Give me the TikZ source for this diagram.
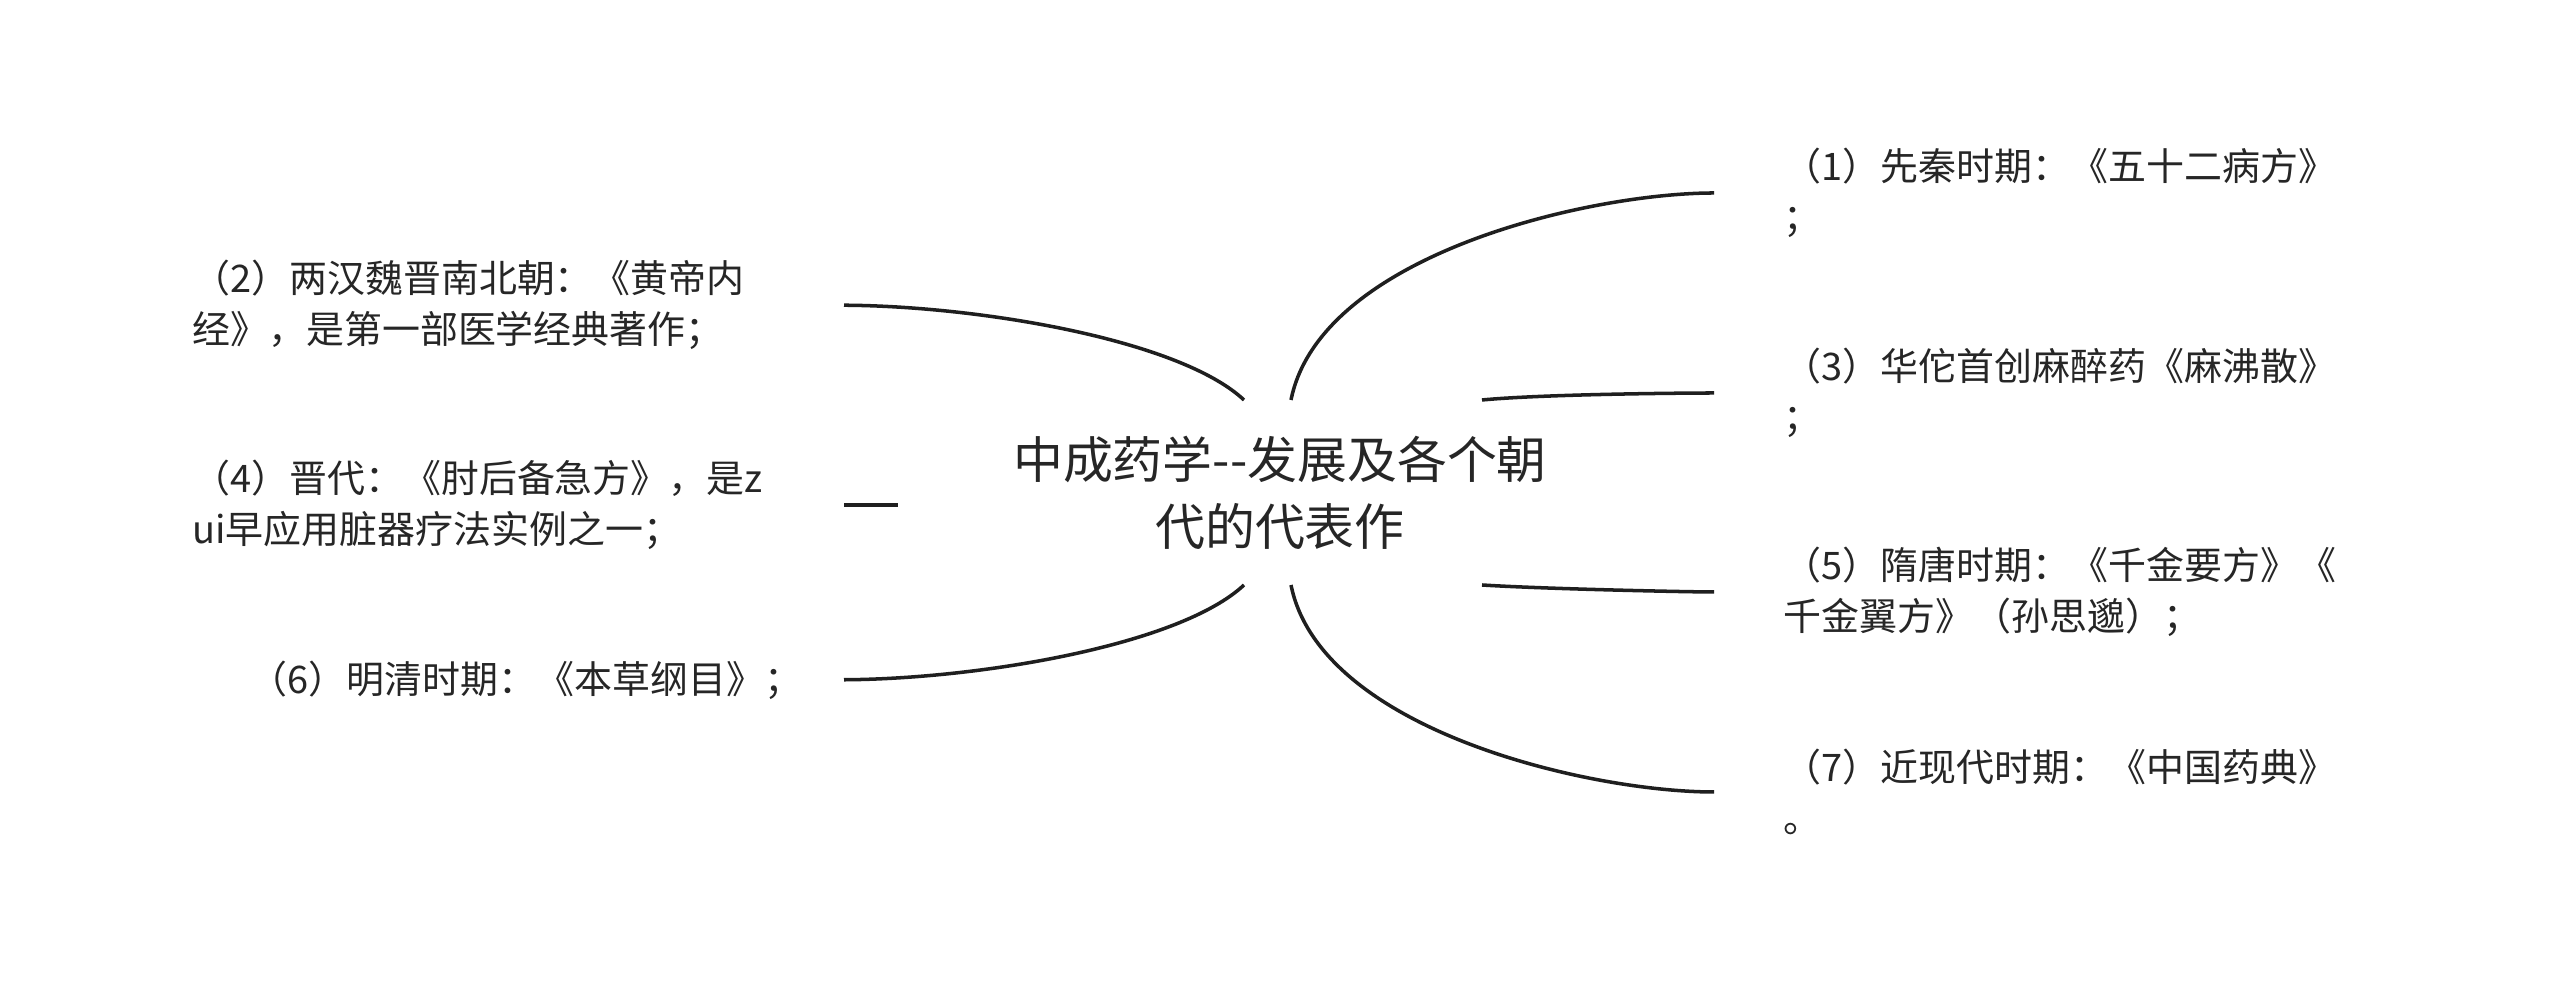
\documentclass[tikz,border=0pt]{standalone}
\usepackage{fontspec}
\setmainfont{Noto Sans CJK SC}

\begin{document}
\begin{tikzpicture}[
	branch/.style={line width=1pt, color=black!88},
	leaf/.style={inner sep=0pt, color=black!85, font=\fontsize{10.8}{14.5}\selectfont},
	rootbox/.style={inner sep=0pt, align=center, color=black!85, font=\fontsize{14.2}{19}\selectfont}]
		%%%%% START %%%%%
		
		\path[fill=white] (0, 0) rectangle (25.6, 9.85);
		
		\node[rootbox] (root) at (12.80, 4.92) {中成药学-\kern0pt-发展及各个朝\\代的代表作};
		
		\coordinate (lt2) at (12.44, 5.85);
		\coordinate (rt1) at (12.91, 5.85);
		\coordinate (rt3) at (14.82, 5.85);
		\coordinate (lt4) at (8.98, 4.80);
		\coordinate (lt6) at (12.44, 4.00);
		\coordinate (rt7) at (12.91, 4.00);
		\coordinate (rt5) at (14.82, 4.00);
		
		\node[leaf, anchor=west, align=left] (n1) at (17.83, 7.92) {（1）先秦时期：《五十二病方》\\；};
		\node[leaf, anchor=west, align=left] (n3) at (17.83, 5.92) {（3）华佗首创麻醉药《麻沸散》\\；};
		\node[leaf, anchor=west, align=left] (n5) at (17.83, 3.93) {（5）隋唐时期：《千金要方》《\\千金翼方》（孙思邈）；};
		\node[leaf, anchor=west, align=left] (n7) at (17.83, 1.93) {（7）近现代时期：《中国药典》\\。};
		
		\node[leaf, anchor=east, text width=6.1cm, align=left] (n2) at (8.03, 6.80) {（2）两汉魏晋南北朝：《黄帝内\\经》，是第一部医学经典著作；};
		\node[leaf, anchor=east, text width=6.1cm, align=left] (n4) at (8.03, 4.80) {（4）晋代：《肘后备急方》，是z\\ui早应用脏器疗法实例之一；};
		\node[leaf, anchor=east, text width=6.1cm, align=right] (n6) at (8.03, 3.05) {（6）明清时期：《本草纲目》；};
		
		\draw[branch, shorten >=6.9mm] (rt1) .. controls (13.2, 7.30) and (15.89, 7.92) .. (n1.west);
		\draw[branch, shorten >=6.9mm] (rt3) .. controls (15.45, 5.91) and (16.9, 5.92) .. (n3.west);
		\draw[branch, shorten >=6.9mm] (rt5) .. controls (15.45, 3.96) and (16.9, 3.93) .. (n5.west);
		\draw[branch, shorten >=6.9mm] (rt7) .. controls (13.2, 2.55) and (15.89, 1.93) .. (n7.west);
		
		\draw[branch, shorten <=4.1mm] (n2.east) .. controls (9.8, 6.79) and (11.8, 6.45) .. (lt2);
		\draw[branch, shorten <=4.1mm] (n4.east) -- (lt4);
		\draw[branch, shorten <=4.1mm] (n6.east) .. controls (9.8, 3.06) and (11.8, 3.40) .. (lt6);
		
		%%%%% END %%%%%
\end{tikzpicture}
\end{document}
